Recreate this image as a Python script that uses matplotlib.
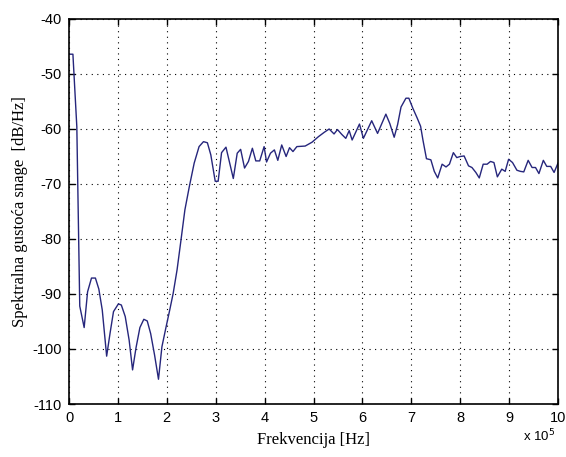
import matplotlib
matplotlib.use("Agg")
import matplotlib.pyplot as plt

# Frequency (x 10^5 Hz) and power spectral density (dB/Hz)
freq = [0.00, 0.08, 0.16, 0.22, 0.31, 0.38, 0.46, 0.54, 0.61, 0.68,
        0.77, 0.84, 0.91, 1.01, 1.07, 1.15, 1.23, 1.30, 1.37, 1.45,
        1.53, 1.60, 1.67, 1.75, 1.83, 1.90, 1.98, 2.06, 2.13, 2.21,
        2.29, 2.37, 2.46, 2.56, 2.66, 2.75, 2.83, 2.90, 2.99, 3.05,
        3.12, 3.21, 3.36, 3.44, 3.51, 3.59, 3.67, 3.75, 3.82, 3.90,
        3.99, 4.04, 4.12, 4.20, 4.27, 4.35, 4.44, 4.51, 4.58, 4.66,
        4.83, 4.89, 4.97, 5.10, 5.22, 5.32, 5.42, 5.49, 5.58, 5.66,
        5.73, 5.79, 5.94, 6.02, 6.19, 6.31, 6.48, 6.56, 6.65, 6.72,
        6.79, 6.89, 6.95, 7.03, 7.12, 7.19, 7.24, 7.31, 7.40, 7.47,
        7.54, 7.63, 7.71, 7.78, 7.86, 7.93, 8.00, 8.08, 8.17, 8.24,
        8.32, 8.39, 8.47, 8.55, 8.62, 8.69, 8.76, 8.85, 8.92, 8.99,
        9.07, 9.16, 9.23, 9.30, 9.39, 9.47, 9.54, 9.61, 9.70, 9.77,
        9.85, 9.92, 10.00]
psd = [-46.4, -46.4, -59.6, -92.2, -96.1, -89.6, -87.1, -87.1, -89.1, -92.9,
       -101.3, -97.1, -93.2, -91.8, -92.0, -94.1, -98.4, -103.8, -99.8, -96.1,
       -94.6, -94.9, -97.2, -101.1, -105.5, -99.6, -96.2, -92.9, -89.9, -85.6,
       -80.2, -74.7, -70.5, -66.2, -63.2, -62.3, -62.5, -64.7, -69.5, -69.5,
       -64.3, -63.3, -69.0, -64.4, -63.7, -67.1, -65.9, -63.5, -65.8, -65.8,
       -63.2, -66.0, -64.4, -63.8, -65.7, -62.9, -65.0, -63.4, -64.1, -63.2,
       -63.1, -62.8, -62.4, -61.4, -60.6, -60.0, -60.9, -60.1, -61.0, -61.7,
       -60.3, -62.0, -59.1, -61.7, -58.5, -60.8, -57.3, -59.0, -61.5, -59.2,
       -56.0, -54.4, -54.4, -56.2, -58.0, -59.5, -62.1, -65.4, -65.6, -67.7,
       -68.9, -66.4, -66.9, -66.4, -64.3, -65.2, -65.0, -64.9, -66.7, -67.0,
       -67.9, -68.9, -66.4, -66.4, -65.9, -66.1, -68.7, -67.3, -67.7, -65.5,
       -66.1, -67.5, -67.7, -67.8, -65.7, -67.0, -67.0, -68.1, -65.7, -66.8,
       -66.8, -67.9, -66.2]

xticks = list(range(0, 11))
yticks = [-110, -100, -90, -80, -70, -60, -50, -40]

fig = plt.figure(figsize=(5.66, 4.57), dpi=100)
ax = fig.add_axes([69/566, 1-404/457, 489/566, 385/457])

ax.plot(freq, psd, color='#26267c', linewidth=1.0)

ax.set_xlim(0, 10)
ax.set_ylim(-110, -40)
ax.set_xticks(xticks)
ax.set_yticks(yticks)
ax.set_xticklabels([str(t) for t in xticks], family='Liberation Sans', fontsize=10.5)
ax.set_yticklabels([str(t) for t in yticks], family='Liberation Sans', fontsize=10.5)
ax.tick_params(direction='in', top=True, right=True, length=4, width=1.0, pad=5)
ax.grid(True, linestyle=(0, (1, 4)), color='black', linewidth=0.8)
for s in ax.spines.values():
    s.set_linewidth(1.2)

ax.set_xlabel('Frekvencija [Hz]', family='Liberation Serif', fontsize=12, labelpad=5)
ax.set_ylabel('Spektralna gustoća snage  [dB/Hz]', family='Liberation Serif', fontsize=12, labelpad=3)

fig.text(539/566, 1-441/457, r'x 10$^5$', family='Liberation Sans', fontsize=9.5,
         ha='center', va='baseline')

fig.savefig('out.png', dpi=100)
